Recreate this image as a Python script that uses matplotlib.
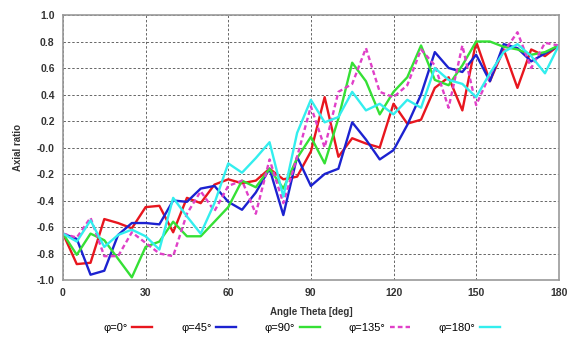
import matplotlib
matplotlib.use("Agg")
import matplotlib.pyplot as plt

plt.rcParams["font.family"] = ["Liberation Sans", "DejaVu Sans"]

# Angle theta (deg), sampled every 5 degrees
theta = [0, 5, 10, 15, 20, 25, 30, 35, 40, 45, 50, 55, 60, 65, 70, 75, 80, 85,
         90, 95, 100, 105, 110, 115, 120, 125, 130, 135, 140, 145, 150, 155,
         160, 165, 170, 175, 180]

# Axial ratio per phi cut
ar_phi0 = [-0.65, -0.88, -0.87, -0.54, -0.57, -0.61, -0.45, -0.44, -0.64, -0.38,
           -0.42, -0.28, -0.24, -0.27, -0.25, -0.16, -0.24, -0.22, -0.03, 0.38,
           -0.07, 0.07, 0.03, 0.00, 0.33, 0.18, 0.21, 0.45, 0.53, 0.28,
           0.80, 0.50, 0.74, 0.45, 0.74, 0.69, 0.77]
ar_phi45 = [-0.65, -0.69, -0.96, -0.93, -0.66, -0.57, -0.57, -0.58, -0.40, -0.41,
            -0.31, -0.29, -0.41, -0.47, -0.34, -0.16, -0.51, -0.07, -0.29, -0.20,
            -0.16, 0.19, 0.06, -0.09, -0.02, 0.17, 0.40, 0.72, 0.60, 0.57,
            0.70, 0.50, 0.78, 0.75, 0.65, 0.71, 0.77]
ar_phi90 = [-0.65, -0.81, -0.65, -0.70, -0.84, -0.98, -0.75, -0.71, -0.56, -0.67,
            -0.67, -0.56, -0.45, -0.25, -0.30, -0.16, -0.31, -0.08, 0.08, -0.12,
            0.22, 0.64, 0.50, 0.25, 0.42, 0.53, 0.77, 0.51, 0.47, 0.62,
            0.80, 0.80, 0.76, 0.74, 0.70, 0.72, 0.77]
ar_phi135 = [-0.65, -0.68, -0.53, -0.82, -0.82, -0.64, -0.72, -0.80, -0.82, -0.50,
             -0.33, -0.48, -0.29, -0.25, -0.50, -0.09, -0.42, -0.07, 0.31, 0.00,
             0.42, 0.48, 0.75, 0.42, 0.38, 0.47, 0.74, 0.62, 0.30, 0.77,
             0.32, 0.55, 0.72, 0.87, 0.60, 0.79, 0.77]
ar_phi180 = [-0.65, -0.71, -0.55, -0.75, -0.66, -0.62, -0.67, -0.77, -0.38, -0.52,
             -0.65, -0.42, -0.12, -0.19, -0.08, 0.04, -0.37, 0.11, 0.36, 0.19,
             0.23, 0.42, 0.28, 0.33, 0.25, 0.36, 0.30, 0.60, 0.51, 0.48,
             0.38, 0.56, 0.72, 0.78, 0.69, 0.56, 0.77]

x_ticks = [0, 30, 60, 90, 120, 150, 180]
y_ticks = [-1.0, -0.8, -0.6, -0.4, -0.2, 0.0, 0.2, 0.4, 0.6, 0.8, 1.0]
y_tick_labels = ["-1.0", "-0.8", "-0.6", "-0.4", "-0.2", "-0.0",
                 "0.2", "0.4", "0.6", "0.8", "1.0"]

series = [
    (ar_phi0,   "φ=0°",   "#e8161e", "-"),
    (ar_phi45,  "φ=45°",  "#1c22d0", "-"),
    (ar_phi90,  "φ=90°",  "#35e035", "-"),
    (ar_phi135, "φ=135°", "#e040c8", (0, (2.0, 1.3))),
    (ar_phi180, "φ=180°", "#33eeee", "-"),
]

fig = plt.figure(figsize=(5.69, 3.45), dpi=100)
ax = fig.add_axes([0.1107, 0.1884, 0.8713, 0.7681])

for vals, label, color, ls in series:
    ax.plot(theta, vals, color=color, linestyle=ls, linewidth=1.7, label=label)

ax.set_xlim(0, 180)
ax.set_ylim(-1.0, 1.0)
ax.set_xticks(x_ticks)
ax.set_yticks(y_ticks)
ax.set_yticklabels(y_tick_labels)
ax.tick_params(length=0, labelsize=7.5, pad=6, labelcolor="#333333")
for lab in ax.get_xticklabels() + ax.get_yticklabels():
    lab.set_fontweight("bold")

ax.grid(True, color="#666666", linestyle=(0, (2.5, 2)), linewidth=0.7)
for side in ax.spines.values():
    side.set_color("#999999")
    side.set_linewidth(1.2)

ax.set_xlabel("Angle Theta [deg]", fontsize=7, fontweight="bold", color="#333333", labelpad=6)
ax.set_ylabel("Axial ratio", fontsize=7, fontweight="bold", color="#333333", labelpad=10)

fig.legend(loc="center", bbox_to_anchor=(0.53, 0.05), ncol=5, frameon=False,
           markerfirst=False, fontsize=8, handlelength=1.8, handletextpad=0.4,
           columnspacing=2.6)

fig.savefig("out.png", dpi=100)
